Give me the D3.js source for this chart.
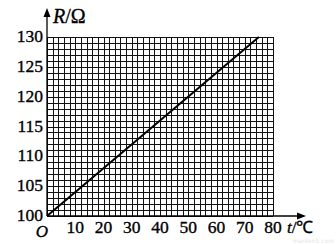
<!DOCTYPE html>
<html><head><meta charset="utf-8">
<script src="https://cdn.jsdelivr.net/npm/d3@7"></script>
<style>body{margin:0;background:#fff}svg{display:block}</style>
</head><body>
<script>
const xTicks = [10, 20, 30, 40, 50, 60, 70, 80];
const yTicks = [100, 105, 110, 115, 120, 125, 130];
const lineT = [0, 75];
const lineR = [100, 130];

const W = 336, H = 244;
const svg = d3.select("body").append("svg").attr("width", W).attr("height", H);
const x = d3.scaleLinear().domain([0, 80]).range([47, 273]);
const y = d3.scaleLinear().domain([100, 130]).range([216, 37]);
const font = "'Liberation Serif','Times New Roman',serif";

// grid
const g = svg.append("g").attr("stroke", "#111").attr("stroke-width", 1).attr("shape-rendering", "crispEdges");
g.selectAll(".v").data(d3.range(0, 81, 2)).join("line")
  .attr("x1", d => Math.round(x(d)) + 0.5).attr("x2", d => Math.round(x(d)) + 0.5)
  .attr("y1", y(130)).attr("y2", y(100));
g.selectAll(".h").data(d3.range(100, 131, 1)).join("line")
  .attr("y1", d => Math.round(y(d)) + 0.5).attr("y2", d => Math.round(y(d)) + 0.5)
  .attr("x1", x(0)).attr("x2", x(80));

// axes with arrows
const ax = svg.append("g").attr("stroke", "#000").attr("stroke-width", 1.3);
ax.append("line").attr("x1", x(0)).attr("x2", 300).attr("y1", y(100)).attr("y2", y(100));
ax.append("line").attr("x1", x(0)).attr("x2", x(0)).attr("y1", y(100)).attr("y2", 14);
svg.append("path").attr("d", `M${x(0)},8 L${x(0)-3.5},17 L${x(0)+3.5},17 Z`).attr("fill", "#000");
svg.append("path").attr("d", `M306,${y(100)} L297,${y(100)-3.5} L297,${y(100)+3.5} Z`).attr("fill", "#000");

// data line
svg.append("line")
  .attr("x1", x(lineT[0])).attr("y1", y(lineR[0]))
  .attr("x2", x(lineT[1])).attr("y2", y(lineR[1]))
  .attr("stroke", "#000").attr("stroke-width", 2);

// tick labels
const txt = sel => sel.attr("font-family", font).attr("fill", "#000")
  .attr("stroke", "#000").attr("stroke-width", 0.35);
svg.selectAll(".yl").data(yTicks).join("text")
  .attr("x", 43).attr("y", d => y(d) + 5)
  .attr("text-anchor", "end").attr("font-size", 17.5).call(txt).text(d => d);
svg.selectAll(".xl").data(xTicks).join("text")
  .attr("x", d => x(d)).attr("y", 233)
  .attr("text-anchor", "middle").attr("font-size", 17.5).call(txt).text(d => d);
svg.append("text").attr("x", 42).attr("y", 237).attr("text-anchor", "middle")
  .attr("font-style", "italic").attr("font-size", 17).call(txt).text("O");

// axis titles
const rt = svg.append("text").attr("x", 53).attr("y", 23).attr("font-size", 20).call(txt);
rt.append("tspan").attr("font-style", "italic").text("R");
rt.append("tspan").text("/Ω");
const tt = svg.append("text").attr("x", 287).attr("y", 233).attr("font-size", 17).call(txt);
tt.append("tspan").attr("font-style", "italic").text("t");
tt.append("tspan").text("/℃");

// watermark
svg.append("text").attr("x", 334).attr("y", 243).attr("text-anchor", "end")
  .attr("font-family", "DejaVu Sans").attr("font-size", 6)
  .attr("fill", "#e6e6e6").text("manfen5.com");
</script>
</body></html>
